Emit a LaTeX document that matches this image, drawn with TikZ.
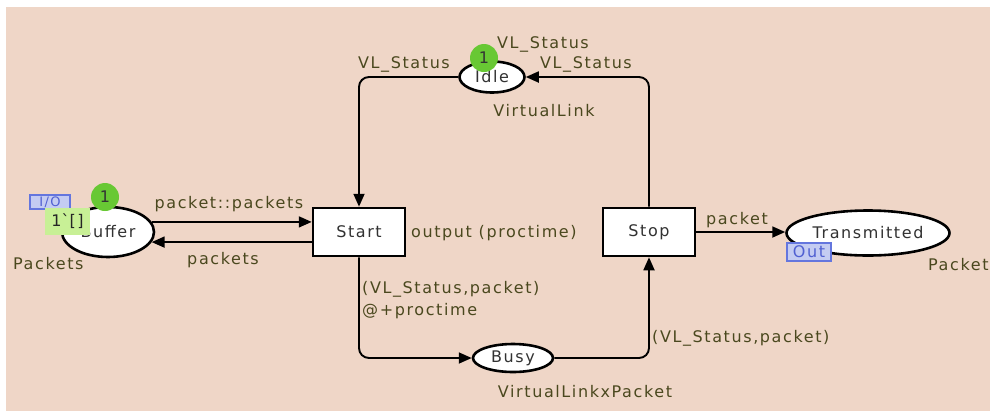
\documentclass[tikz,border=0pt]{standalone}
\usepackage{fontspec}
\setmainfont{DejaVu Sans}[LetterSpace=10]
\usetikzlibrary{shapes.geometric,arrows.meta}
\definecolor{bgpeach}{RGB}{239,214,199}
\definecolor{lblcol}{RGB}{74,72,30}
\definecolor{nodetext}{RGB}{50,50,50}
\definecolor{tokgreen}{RGB}{104,200,52}
\definecolor{markgreen}{RGB}{200,240,150}
\definecolor{tagfill}{RGB}{196,204,242}
\definecolor{tagborder}{RGB}{100,118,222}
\definecolor{tagtext}{RGB}{80,96,210}
\tikzset{
  place/.style={ellipse, draw=black, line width=2.6pt, fill=white, inner sep=0pt, text=nodetext},
  trans/.style={rectangle, draw=black, line width=2.6pt, fill=white, minimum width=92bp, minimum height=48bp, text=nodetext},
  arc/.style={draw=black, line width=1.9pt, -{Triangle[length=13pt,width=11pt]}, rounded corners=10pt},
  lbl/.style={text=lblcol, inner sep=0pt},
  token/.style={circle, fill=tokgreen, minimum size=28bp, inner sep=0pt, text=black!80},
  marking/.style={rectangle, fill=markgreen, minimum width=45bp, minimum height=27bp, inner sep=0pt, text=black!85},
  tag/.style={rectangle, draw=tagborder, fill=tagfill, line width=1.2pt, text=tagtext, inner sep=0pt}
}
\begin{document}
\begin{tikzpicture}[x=1bp,y=-1bp,font=\fontsize{16bp}{19bp}\selectfont]
\useasboundingbox (0,0) rectangle (990,410);
\fill[white] (-5,-5) rectangle (1000,420);
\fill[bgpeach] (6,7) rectangle (1000,420);

% places
\node[place, minimum width=92bp, minimum height=50bp] (buffer) at (108,232) {Buffer};
\node[place, minimum width=65bp, minimum height=31bp] (idle) at (492,77) {Idle};
\node[place, minimum width=80bp, minimum height=28bp] (busy) at (513,358) {Busy};
\node[place, minimum width=163bp, minimum height=45bp] (trans) at (868,233) {Transmitted};

% transitions
\node[trans] (start) at (359,232) {Start};
\node[trans] (stop) at (649,232) {Stop};

% arcs
\draw[arc] (buffer.13.4) -- (buffer.13.4 -| start.west);
\draw[arc] (buffer.-13.4 -| start.west) -- (buffer.-13.4);
\draw[arc] (idle.west) -| (start.north);
\draw[arc] (stop.north) |- (idle.east);
\draw[arc] (start.south) |- (busy.west);
\draw[arc] (busy.east) -| (stop.south);
\draw[arc] (stop.east) -- (stop.east -| trans.west);

% arc labels
\node[lbl] (l1) at (229,204) {packet::packets};
\node[lbl] (l2) at (223,260) {packets};
\node[lbl] (l3) at (404,64) {VL\_Status};
\node[lbl] (l4) at (543,44) {VL\_Status};
\node[lbl] (l5) at (586,64) {VL\_Status};
\node[lbl, anchor=west] (l6) at (411,233) {output (proctime)};
\node[lbl, anchor=west] (l7) at (362,289) {(VL\_Status,packet)};
\node[lbl, anchor=west] (l8) at (362,311) {@+proctime};
\node[lbl, anchor=west] (l9) at (652,338) {(VL\_Status,packet)};
\node[lbl] (l10) at (737,220) {packet};

% colour sets
\node[lbl, anchor=west] (c1) at (13,264) {Packets};
\node[lbl] (c2) at (544,111) {VirtualLink};
\node[lbl] (c3) at (585,392) {VirtualLinkxPacket};
\node[lbl, anchor=west] (c4) at (928,265) {Packet};

% port tags
\node[tag, minimum width=40bp, minimum height=14bp, font=\fontsize{13bp}{15bp}\selectfont] (io) at (50,202) {I/O};
\node[tag, minimum width=44bp, minimum height=18bp] (out) at (809,252) {Out};

% markings
\node[marking] (mark1) at (67.5,221.5) {1\textasciigrave[]};
\node[token] (tok1) at (105,197) {1};
\node[token] (tok2) at (484,58) {1};
\end{tikzpicture}
\end{document}
